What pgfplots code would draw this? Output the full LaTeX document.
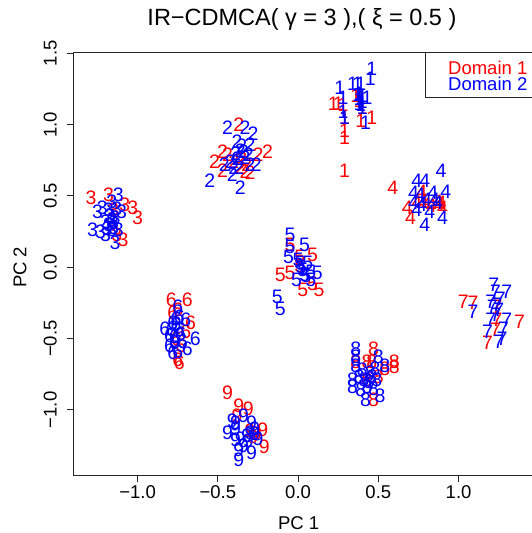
\documentclass[border=0pt]{standalone}
\usepackage{fontspec}
\setmainfont{Liberation Sans}
\usepackage{pgfplots}
\pgfplotsset{compat=1.18}

\definecolor{dom1}{RGB}{255,0,0}
\definecolor{dom2}{RGB}{0,0,255}

\newcommand{\fs}{\fontsize{18.5}{18.5}\selectfont}
\pgfplotsset{
  dig/.style={only marks, mark=text, text mark={#1}, text mark as node=true,
    text mark style={font=\fontsize{19.5}{19.5}\selectfont, inner sep=0pt}},
}

\begin{document}
\begin{tikzpicture}
\begin{axis}[
  name=ax,
  scale only axis, width=480.9pt, height=422pt,
  xmin=-1.396, xmax=1.6, ymin=-1.457, ymax=1.503,
  axis line style={line width=1pt, black!85},
  tick style={line width=1pt, black!85},
  tick align=outside, major tick length=7pt,
  xtick pos=bottom, ytick pos=left,
  xtick={-1,-0.5,0,0.5,1},
  xticklabels={−1.0,−0.5,0.0,0.5,1.0},
  ytick={-1,-0.5,0,0.5,1,1.5},
  yticklabels={−1.0,−0.5,0.0,0.5,1.0,1.5},
  ticklabel style={font=\fs},
  yticklabel style={rotate=90, anchor=south, inner ysep=10pt},
  xlabel={PC 1}, ylabel={PC 2},
  xlabel style={font=\fs, at={(axis description cs:0.467,-0.1303)}, anchor=base},
  ylabel style={font=\fs, at={(axis description cs:-0.1123,0.492)}, anchor=center},
  title={IR−CDMCA( γ = 3 ),( ξ = 0.5 )},
  title style={font=\fontsize{23.5}{23.5}\selectfont, at={(axis description cs:0.474,1.0498)}, anchor=base},
  clip=false,
]
% domain 1 (red)
\addplot[dom1, dig=1] coordinates {(0.22,1.15)(0.25,1.15)(0.28,1.14)(0.29,1.05)(0.29,0.96)(0.29,0.91)(0.29,0.68)(0.39,1.03)(0.46,1.05)(0.38,1.17)(0.36,1.20)(0.40,1.12)};
\addplot[dom1, dig=2] coordinates {(-0.37,1.00)(-0.47,0.81)(-0.52,0.74)(-0.47,0.68)(-0.36,0.70)(-0.33,0.67)(-0.30,0.66)(-0.25,0.79)(-0.19,0.81)(-0.44,0.79)(-0.40,0.74)(-0.35,0.76)(-0.32,0.72)};
\addplot[dom1, dig=3] coordinates {(-1.29,0.49)(-1.18,0.51)(-1.08,0.44)(-1.03,0.42)(-1.00,0.35)(-1.09,0.19)(-1.13,0.23)(-1.15,0.40)(-1.16,0.33)};
\addplot[dom1, dig=4] coordinates {(0.59,0.56)(0.68,0.42)(0.70,0.35)(0.78,0.46)(0.87,0.46)(0.89,0.45)(0.90,0.42)(0.77,0.53)(0.74,0.45)(0.83,0.43)(0.80,0.44)(0.88,0.44)};
\addplot[dom1, dig=5] coordinates {(-0.05,0.16)(0.09,0.09)(0.01,0.07)(-0.11,-0.05)(-0.05,-0.04)(0.03,-0.16)(0.13,-0.16)(0.09,-0.12)(0.01,0.01)};
\addplot[dom1, dig=6] coordinates {(-0.79,-0.23)(-0.69,-0.23)(-0.78,-0.32)(-0.67,-0.39)(-0.75,-0.65)(-0.74,-0.67)(-0.70,-0.45)(-0.76,-0.50)(-0.73,-0.55)(-0.75,-0.30)};
\addplot[dom1, dig=7] coordinates {(1.03,-0.24)(1.09,-0.25)(1.24,-0.28)(1.24,-0.37)(1.38,-0.38)(1.23,-0.44)(1.18,-0.53)};
\addplot[dom1, dig=8] coordinates {(0.47,-0.57)(0.36,-0.66)(0.43,-0.66)(0.46,-0.66)(0.54,-0.71)(0.60,-0.66)(0.60,-0.70)(0.47,-0.93)(0.43,-0.79)(0.50,-0.77)};
\addplot[dom1, dig=9] coordinates {(-0.44,-0.88)(-0.37,-0.97)(-0.31,-0.99)(-0.38,-1.04)(-0.22,-1.14)(-0.21,-1.26)(-0.28,-1.19)(-0.30,-1.15)(-0.26,-1.17)};
% domain 2 (blue)
\addplot[dom2, dig=1] coordinates {(0.26,1.26)(0.28,1.19)(0.29,1.05)(0.34,1.29)(0.37,1.29)(0.39,1.29)(0.37,1.21)(0.39,1.19)(0.40,1.20)(0.43,1.19)(0.40,1.12)(0.42,1.01)(0.45,1.32)(0.46,1.39)(0.38,1.15)(0.39,1.14)(0.28,1.09)(0.38,1.18)(0.38,1.22)(0.40,1.16)};
\addplot[dom2, dig=2] coordinates {(-0.44,0.98)(-0.33,0.98)(-0.28,0.94)(-0.38,0.88)(-0.30,0.86)(-0.39,0.80)(-0.34,0.81)(-0.42,0.74)(-0.46,0.72)(-0.55,0.61)(-0.36,0.56)(-0.41,0.65)(-0.30,0.72)(-0.31,0.79)(-0.37,0.70)(-0.26,0.72)(-0.35,0.85)(-0.40,0.70)(-0.38,0.76)(-0.33,0.77)(-0.36,0.82)};
\addplot[dom2, dig=3] coordinates {(-1.12,0.51)(-1.16,0.46)(-1.22,0.42)(-1.25,0.39)(-1.18,0.40)(-1.10,0.39)(-1.14,0.35)(-1.28,0.26)(-1.23,0.25)(-1.20,0.23)(-1.16,0.26)(-1.12,0.26)(-1.14,0.17)(-1.18,0.30)(-1.20,0.32)(-1.15,0.31)(-1.17,0.36)(-1.15,0.28)(-1.19,0.27)(-1.13,0.41)(-1.16,0.33)};
\addplot[dom2, dig=4] coordinates {(0.89,0.68)(0.74,0.61)(0.79,0.61)(0.72,0.52)(0.76,0.51)(0.84,0.52)(0.92,0.53)(0.74,0.40)(0.82,0.39)(0.79,0.30)(0.90,0.35)(0.87,0.45)(0.72,0.45)(0.80,0.47)(0.77,0.44)(0.85,0.47)};
\addplot[dom2, dig=5] coordinates {(-0.05,0.23)(-0.05,0.14)(0.04,0.16)(-0.06,0.07)(0.01,0.03)(0.06,0.03)(0.12,-0.04)(-0.01,-0.09)(0.08,-0.09)(-0.13,-0.21)(-0.11,-0.29)(0.03,-0.02)(0.02,0.00)(0.05,-0.06)(0.04,-0.05)(0.08,-0.03)(0.00,0.05)};
\addplot[dom2, dig=6] coordinates {(-0.75,-0.28)(-0.83,-0.43)(-0.78,-0.39)(-0.70,-0.37)(-0.64,-0.50)(-0.80,-0.55)(-0.69,-0.57)(-0.75,-0.59)(-0.77,-0.49)(-0.74,-0.44)(-0.80,-0.48)(-0.72,-0.52)(-0.76,-0.36)(-0.78,-0.60)(-0.76,-0.40)(-0.73,-0.47)(-0.77,-0.53)(-0.74,-0.35)(-0.79,-0.44)};
\addplot[dom2, dig=7] coordinates {(1.22,-0.12)(1.30,-0.17)(1.20,-0.24)(1.09,-0.31)(1.25,-0.30)(1.20,-0.37)(1.30,-0.37)(1.28,-0.43)(1.18,-0.45)(1.27,-0.50)(1.25,-0.52)(1.23,-0.17)(1.26,-0.22)(1.23,-0.33)(1.24,-0.26)(1.21,-0.28)};
\addplot[dom2, dig=8] coordinates {(0.36,-0.57)(0.36,-0.63)(0.36,-0.69)(0.50,-0.63)(0.54,-0.69)(0.34,-0.79)(0.34,-0.84)(0.41,-0.79)(0.45,-0.74)(0.39,-0.86)(0.42,-0.93)(0.49,-0.79)(0.51,-0.90)(0.47,-0.85)(0.44,-0.80)(0.40,-0.72)(0.43,-0.84)(0.46,-0.77)(0.38,-0.77)(0.48,-0.71)};
\addplot[dom2, dig=9] coordinates {(-0.34,-1.04)(-0.44,-1.16)(-0.39,-1.13)(-0.39,-1.21)(-0.37,-1.28)(-0.37,-1.35)(-0.29,-1.30)(-0.27,-1.13)(-0.30,-1.16)(-0.25,-1.20)(-0.34,-1.25)(-0.29,-1.09)(-0.41,-1.08)(-0.32,-1.18)(-0.31,-1.22)(-0.27,-1.17)(-0.36,-1.20)(-0.39,-1.09)};
% legend box
\draw[line width=1pt, black!85] (axis description cs:1.02,0.894) -- (axis description cs:0.7313,0.894) -- (axis description cs:0.7313,1);
\node[anchor=base west, inner sep=0pt, font=\fs, text=dom1] at (axis description cs:0.7777,0.9479) {Domain 1};
\node[anchor=base west, inner sep=0pt, font=\fs, text=dom2] at (axis description cs:0.7777,0.9123) {Domain 2};
\end{axis}
\pgfresetboundingbox
\useasboundingbox ([xshift=-74pt,yshift=-58pt]ax.south west) rectangle ([xshift=457pt,yshift=53pt]ax.north west);
\end{tikzpicture}
\end{document}
